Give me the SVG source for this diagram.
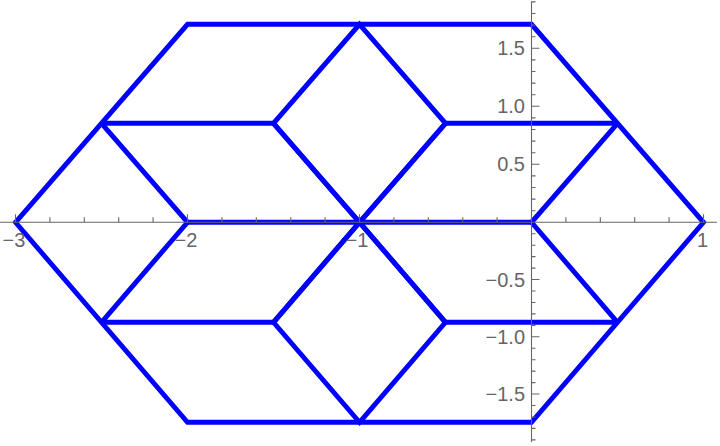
<svg xmlns="http://www.w3.org/2000/svg" width="720" height="446" viewBox="0 0 720 446">
  <style>
    .edge { fill: none; stroke: #0000ff; stroke-width: 4.9; stroke-linejoin: miter; stroke-linecap: butt; }
    .axis { fill: none; stroke: #666666; stroke-width: 1.1; }
    .lbl { font-family: "Liberation Sans", Arial, sans-serif; font-size: 20px; fill: #666666; }
  </style>
  <rect width="720" height="446" fill="#ffffff"/>
  <g id="figure">
    <polygon class="edge" points="15.5,222.3 187.5,24.3 531.5,24.3 703.5,222.3 531.5,422.3 187.5,422.3"/>
    <polyline class="edge" points="101.5,123.3 273.5,123.3"/>
    <polyline class="edge" points="445.5,123.3 617.5,123.3"/>
    <polyline class="edge" points="101.5,322.3 273.5,322.3"/>
    <polyline class="edge" points="445.5,322.3 617.5,322.3"/>
    <polyline class="edge" points="187.5,222.3 531.5,222.3"/>
    <polyline class="edge" points="101.5,123.3 187.5,222.3 101.5,322.3"/>
    <polyline class="edge" points="273.5,123.3 359.5,222.3 273.5,322.3"/>
    <polyline class="edge" points="445.5,123.3 359.5,222.3 445.5,322.3"/>
    <polyline class="edge" points="617.5,123.3 531.5,222.3 617.5,322.3"/>
    <polygon class="edge" points="359.5,24.3 445.5,123.3 359.5,222.3 273.5,123.3"/>
    <polygon class="edge" points="359.5,422.3 445.5,322.3 359.5,222.3 273.5,322.3"/>
  </g>
  <g id="axes">
    <path class="axis" d="M0,222.3 H717 M531.5,1.5 V442"/>
    <path class="axis" d="M15.5,222.3 v-8 M187.5,222.3 v-8 M359.5,222.3 v-8 M703.5,222.3 v-8
      M49.9,222.3 v-5 M84.3,222.3 v-5 M118.7,222.3 v-5 M153.1,222.3 v-5
      M221.9,222.3 v-5 M256.3,222.3 v-5 M290.7,222.3 v-5 M325.1,222.3 v-5
      M393.9,222.3 v-5 M428.3,222.3 v-5 M462.7,222.3 v-5 M497.1,222.3 v-5
      M565.9,222.3 v-5 M600.3,222.3 v-5 M634.7,222.3 v-5 M669.1,222.3 v-5"/>
    <path class="axis" d="M531.5,164.3 h8 M531.5,106.3 h8 M531.5,48.3 h8
      M531.5,279.55 h8 M531.5,336.8 h8 M531.5,394.05 h8
      M531.5,210.7 h4 M531.5,199.1 h4 M531.5,187.5 h4 M531.5,175.9 h4
      M531.5,152.7 h4 M531.5,141.1 h4 M531.5,129.5 h4 M531.5,117.9 h4
      M531.5,94.7 h4 M531.5,83.1 h4 M531.5,71.5 h4 M531.5,59.9 h4
      M531.5,36.7 h4 M531.5,25.1 h4 M531.5,13.5 h4 M531.5,1.9 h4
      M531.5,233.75 h4 M531.5,245.2 h4 M531.5,256.65 h4 M531.5,268.1 h4
      M531.5,291 h4 M531.5,302.45 h4 M531.5,313.9 h4 M531.5,325.35 h4
      M531.5,348.25 h4 M531.5,359.7 h4 M531.5,371.15 h4 M531.5,382.6 h4
      M531.5,405.5 h4 M531.5,416.95 h4 M531.5,428.4 h4 M531.5,439.85 h4"/>
    <g id="x-labels" class="lbl" text-anchor="middle">
      <text x="14" y="247">−3</text>
      <text x="186" y="247">−2</text>
      <text x="357" y="247">−1</text>
      <text x="702.5" y="247">1</text>
    </g>
    <g id="y-labels" class="lbl" text-anchor="end">
      <text x="525" y="55.3">1.5</text>
      <text x="525" y="113.3">1.0</text>
      <text x="525" y="171.3">0.5</text>
      <text x="525" y="286.5">−0.5</text>
      <text x="525" y="343.8">−1.0</text>
      <text x="525" y="401">−1.5</text>
    </g>
  </g>
</svg>
